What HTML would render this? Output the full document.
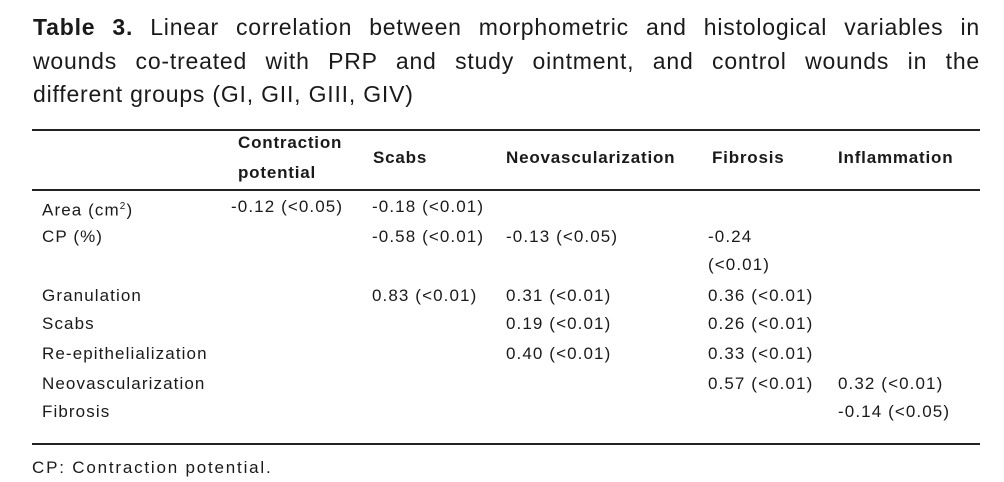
<!DOCTYPE html>
<html><head><meta charset="utf-8"><style>
body{margin:0;width:1004px;height:482px;background:#fff;position:relative;overflow:hidden;font-family:"Liberation Sans",sans-serif;color:#1a1a1a}
.t{position:absolute;white-space:nowrap;font-size:17px;line-height:18px;letter-spacing:1.1px}
.h{font-weight:bold;font-size:17px;letter-spacing:0.8px}
.ti{position:absolute;left:33px;width:947px;font-size:23px;line-height:26px;text-align:justify;text-align-last:justify;white-space:nowrap;letter-spacing:0.8px}
.ln{position:absolute;left:32px;width:948px;height:2px;background:#222}
</style></head><body>
<div class="ti" style="top:14px"><b>Table 3.</b> Linear correlation between morphometric and histological variables in</div>
<div class="ti" style="top:48px">wounds co-treated with PRP and study ointment, and control wounds in the</div>
<div class="ti" style="top:81px;width:auto;text-align-last:auto;letter-spacing:0.8px">different groups (GI, GII, GIII, GIV)</div>
<div class="ln" style="top:129px"></div>
<div class="ln" style="top:189px"></div>
<div class="ln" style="top:443px"></div>
<div class="t h" style="left:238px;top:134px">Contraction</div>
<div class="t h" style="left:238px;top:164px">potential</div>
<div class="t h" style="left:373px;top:149px">Scabs</div>
<div class="t h" style="left:506px;top:149px">Neovascularization</div>
<div class="t h" style="left:712px;top:149px">Fibrosis</div>
<div class="t h" style="left:838px;top:149px">Inflammation</div>

<div class="t" style="left:42px;top:198px">Area (cm<sup style="font-size:10px">2</sup>)</div>
<div class="t" style="left:231px;top:198px">-0.12 (&lt;0.05)</div>
<div class="t" style="left:372px;top:198px">-0.18 (&lt;0.01)</div>

<div class="t" style="left:42px;top:228px">CP (%)</div>
<div class="t" style="left:372px;top:228px">-0.58 (&lt;0.01)</div>
<div class="t" style="left:506px;top:228px">-0.13 (&lt;0.05)</div>
<div class="t" style="left:708px;top:228px">-0.24</div>
<div class="t" style="left:708px;top:256px">(&lt;0.01)</div>

<div class="t" style="left:42px;top:287px">Granulation</div>
<div class="t" style="left:372px;top:287px">0.83 (&lt;0.01)</div>
<div class="t" style="left:506px;top:287px">0.31 (&lt;0.01)</div>
<div class="t" style="left:708px;top:287px">0.36 (&lt;0.01)</div>

<div class="t" style="left:42px;top:315px">Scabs</div>
<div class="t" style="left:506px;top:315px">0.19 (&lt;0.01)</div>
<div class="t" style="left:708px;top:315px">0.26 (&lt;0.01)</div>

<div class="t" style="left:42px;top:345px">Re-epithelialization</div>
<div class="t" style="left:506px;top:345px">0.40 (&lt;0.01)</div>
<div class="t" style="left:708px;top:345px">0.33 (&lt;0.01)</div>

<div class="t" style="left:42px;top:375px">Neovascularization</div>
<div class="t" style="left:708px;top:375px">0.57 (&lt;0.01)</div>
<div class="t" style="left:838px;top:375px">0.32 (&lt;0.01)</div>

<div class="t" style="left:42px;top:403px">Fibrosis</div>
<div class="t" style="left:838px;top:403px">-0.14 (&lt;0.05)</div>

<div class="t" style="left:32px;top:459px;letter-spacing:1.8px">CP: Contraction potential.</div>
</body></html>
